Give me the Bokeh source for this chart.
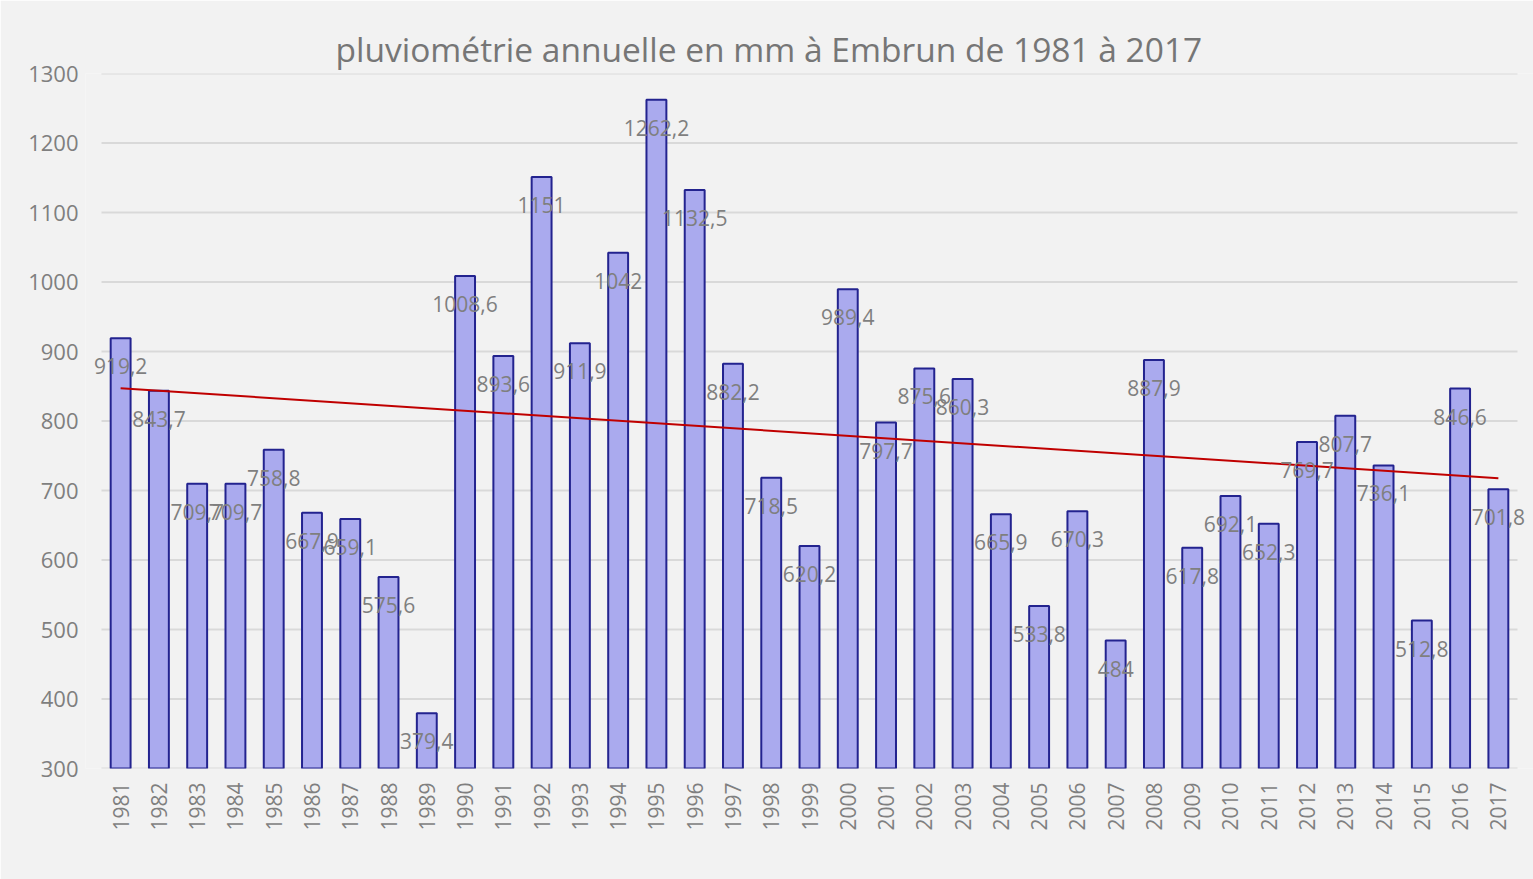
import numpy as np
from bokeh.plotting import figure
from bokeh.models import ColumnDataSource, Range1d, FixedTicker, Title
from bokeh.core.properties import value
from bokeh.embed import file_html
from bokeh.resources import INLINE
import math

years = [str(y) for y in range(1981, 2018)]
rain = [919.2, 843.7, 709.7, 709.7, 758.8, 667.9, 659.1, 575.6, 379.4, 1008.6,
        893.6, 1151, 911.9, 1042, 1262.2, 1132.5, 882.2, 718.5, 620.2, 989.4,
        797.7, 875.6, 860.3, 665.9, 533.8, 670.3, 484, 887.9, 617.8, 692.1,
        652.3, 769.7, 807.7, 736.1, 512.8, 846.6, 701.8]
title_text = "pluviométrie annuelle en mm à Embrun de 1981 à 2017"
y_ticks = [300, 400, 500, 600, 700, 800, 900, 1000, 1100, 1200, 1300]

FONT = "Open Sans"
GRAY = "#7f7f7f"
BG = "#f2f2f2"

n = len(years)
idx = list(range(n))
labels = [("%g" % v).replace(".", ",") for v in rain]
src = ColumnDataSource(dict(x=idx, top=rain, lab=labels))

# frame is widened a little beyond the category area so that edge labels are not clipped
pad = 16 / 38.28
p = figure(width=1533, height=879, output_backend="svg", toolbar_location=None,
           x_range=Range1d(-0.5 - pad, n - 0.5 + pad), y_range=Range1d(300, 1300),
           min_border_left=85, min_border_right=0, min_border_top=73, min_border_bottom=111)
p.background_fill_color = BG
p.border_fill_color = BG
p.outline_line_color = None

p.title = Title(text=title_text, align="left", offset=250, text_font=FONT,
                text_font_size="33.5px", text_color="#767676", text_font_style="normal",
                standoff=4)

# horizontal gridlines over the category area only
p.segment(x0=-0.5, x1=n - 0.5, y0=y_ticks, y1=y_ticks, line_color="#d9d9d9", line_width=2)

p.vbar(x="x", top="top", bottom=300, width=0.52, source=src,
       fill_color="#aaaaee", line_color="#23238f", line_width=2)

# linear trend (least squares), as in the spreadsheet trendline
a, b = np.polyfit(idx, rain, 1)
p.line([idx[0], idx[-1]], [b, a * idx[-1] + b], line_color="#c00000", line_width=2)

p.text(x="x", y="top", text="lab", source=src, text_align="center", text_baseline="middle",
       y_offset=28, text_font=value(FONT), text_font_size="21px", text_color=GRAY)

# axes
p.xaxis.ticker = FixedTicker(ticks=idx)
p.xaxis.major_label_overrides = {i: y for i, y in zip(idx, years)}
p.xaxis.major_label_orientation = math.pi / 2
p.xaxis.major_label_text_font = FONT
p.xaxis.major_label_text_font_size = "21px"
p.xaxis.major_label_text_color = GRAY
p.xaxis.major_label_standoff = 8
p.xaxis.axis_line_color = None
p.xaxis.major_tick_line_color = None
p.xaxis.minor_tick_line_color = None

p.yaxis.ticker = FixedTicker(ticks=y_ticks)
p.yaxis.major_label_text_font = FONT
p.yaxis.major_label_text_font_size = "22px"
p.yaxis.major_label_text_color = GRAY
p.yaxis.major_tick_out = 0
p.yaxis.major_tick_in = 0
p.yaxis.major_label_standoff = 7
p.yaxis.axis_line_color = None
p.yaxis.major_tick_line_color = None
p.yaxis.minor_tick_line_color = None

p.xgrid.grid_line_color = None
p.ygrid.grid_line_color = None

open("out.html", "w").write(file_html(p, INLINE))
